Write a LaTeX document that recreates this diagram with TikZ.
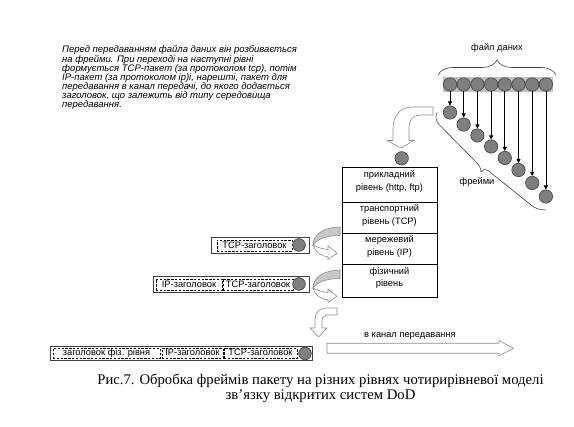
\documentclass[tikz,border=0pt]{standalone}
\usepackage{fontspec}
\setmainfont{Liberation Serif}
\newfontfamily\arial{Liberation Sans}
\usetikzlibrary{decorations.pathreplacing,arrows.meta}
\definecolor{cfill}{HTML}{7F7F7F}
\definecolor{cdraw}{HTML}{404040}
\definecolor{barfill}{HTML}{C0C0C0}
\definecolor{outl}{HTML}{8C8C8C}
\definecolor{ribfill}{HTML}{C8C8C8}
\begin{document}
\begin{tikzpicture}[x=1pt,y=-1pt,
  lbl/.style={font=\arial\fontsize{9.3}{12.4}\selectfont, inner sep=0, align=center},
  desc/.style={font=\arial\itshape\fontsize{9.5}{8.9}\selectfont, inner sep=0, align=left},
  ball/.style={circle, fill=cfill, draw=cdraw, line width=0.6pt, minimum size=13.4pt, inner sep=0},
  arr/.style={-{Triangle[length=4pt,width=4pt]}, line width=0.8pt},
  layer/.style={draw, line width=0.7pt, minimum width=95pt, inner sep=0},
  pbox/.style={draw=cdraw, line width=0.6pt, inner sep=0},
  dbox/.style={lbl, draw, dash pattern=on 2.4pt off 1.4pt, line width=0.9pt},
  hollow/.style={draw=outl, line width=0.6pt, fill=white, line join=miter},
  ribbon/.style={draw=outl, line width=0.6pt}]
\useasboundingbox (0,0) rectangle (574,427);

% description
\node[desc, anchor=north west] (desc) at (62,45.5) {Перед передаванням файла даних він розбивається\\
на фрейми. При переході на наступні рівні\\
формується TCP-пакет (за протоколом tcp), потім\\
IP-пакет (за протоколом ip)і, нарешті, пакет для\\
передавання в канал передачі, до якого додається\\
заголовок, що залежить від типу середовища\\
передавання.};

% data file
\node[lbl] (fl) at (497,48) {файл даних};
\draw[decorate, decoration={brace, amplitude=15pt, aspect=0.5}, line width=0.6pt, draw=cdraw] (438,75) -- (556,75);
\node[fill=barfill, minimum width=110pt, minimum height=15pt, inner sep=0] (bar) at (498,84.5) {};
\foreach \i/\x/\y in {1/450/112.5, 2/463.7/124.5, 3/477.4/135.5, 4/491.1/146.5, 5/504.8/158, 6/518.5/170, 7/532.2/183, 8/545.9/196.5}{
  \node[ball] (t\i) at (\x,84.5) {};
  \node[ball] (f\i) at (\x,\y) {};
  \draw[arr] (t\i) -- (f\i);
}
% frames brace
\draw[line width=0.6pt, draw=cdraw] (437,112.5) .. controls (435,117) and (436,121) .. (439,124.5)
  -- (476,162) .. controls (479,165) and (481,168) .. (481,172)
  .. controls (482,169.5) and (485,169) .. (488,170.5)
  -- (531,205) .. controls (535,208.5) and (540,210) .. (546,210);
\node[lbl] (fr) at (477,182) {фрейми};

% big bent arrow
\draw[hollow] (433,107) -- (412,107) .. controls (400,107) and (393,116) .. (393,128)
  -- (393,140.5) -- (387,140.5) -- (401,148) -- (414,140.5) -- (409,140.5) -- (409,128)
  .. controls (409,120) and (413,115) .. (420,115) -- (433,115) -- cycle;
\node[ball] (top) at (401.7,158.3) {};

% stack
\node[layer, minimum height=35pt] (app) at (389.5,184.5) {};
\node[layer, minimum height=31pt] (tra) at (389.5,217.5) {};
\node[layer, minimum height=31pt] (net) at (389.5,248.5) {};
\node[layer, minimum height=33pt] (phy) at (389.5,280.5) {};
\node[lbl] (appt) at ([yshift=3pt]app.center) {прикладний\\рівень (http, ftp)};
\node[lbl] (trat) at ([yshift=2pt]tra.center) {транспортний\\рівень (TCP)};
\node[lbl] (nett) at ([yshift=2pt]net.center) {мережевий\\рівень (IP)};
\node[lbl] (phyt) at ([yshift=2.5pt]phy.center) {фізичний\\рівень};

% packet 1
\node[pbox, minimum width=98pt, minimum height=16pt] (p1) at (260,245) {};
\node[dbox, minimum width=75pt, minimum height=11pt] (p1tcp) at (254.5,245.5) {TCP-заголовок};
\node[ball, minimum size=12.7pt] (p1c) at (299,245) {};

% packet 2
\node[pbox, minimum width=156pt, minimum height=16pt] (p2) at (231,284) {};
\node[dbox, minimum width=66pt, minimum height=11pt] (p2ip) at (189,284.5) {IP-заголовок};
\node[dbox, minimum width=70pt, minimum height=11pt] (p2tcp) at (258,284.5) {TCP-заголовок};
\node[ball, minimum size=12.7pt] (p2c) at (299,284) {};

% packet 3
\node[pbox, minimum width=262pt, minimum height=13.5pt] (p3) at (181,353.5) {};
\begin{scope}[every node/.append style={font=\arial\fontsize{8.8}{10}\selectfont, text height=6pt, text depth=1.5pt}]
\node[dbox, minimum width=107pt, minimum height=9.8pt] (p3ph) at (106.5,353.5) {заголовок фіз. рівня};
\node[dbox, minimum width=61pt, minimum height=9.8pt] (p3ip) at (192.5,353.5) {IP-заголовок};
\node[dbox, minimum width=73pt, minimum height=9.8pt] (p3tcp) at (260.5,353.5) {TCP-заголовок};
\end{scope}
\node[ball, minimum size=12.7pt] (p3c) at (305,353.5) {};

% ribbon arrows
\foreach \dy in {0,43}{
  \begin{scope}[shift={(0,\dy)}]
    \draw[ribbon, fill=ribfill] (340,227) .. controls (325,227) and (313,234) .. (313,245)
      .. controls (317,239) and (327,235.5) .. (340,235.5) -- cycle;
    \draw[hollow] (313,245) .. controls (315,252) and (321,256.5) .. (328,256.8)
      -- (328,259.5) -- (337,253.3) -- (328,246) -- (328,249.5)
      .. controls (322,249) and (317,247) .. (313,245) -- cycle;
  \end{scope}
}
% down arrow to physical packet
\draw[hollow] (337,308) -- (327,308) .. controls (319,308) and (315,313) .. (315,320) -- (315,328)
  -- (310,328) -- (318.5,337) -- (327,328) -- (322,328) -- (322,321)
  .. controls (322,317) and (324,315) .. (327,315) -- (337,315) -- cycle;

% channel arrow
\draw[hollow] (327,343.3) -- (499,343.3) -- (499,340.5) -- (513.3,348.3) -- (499,356) -- (499,353.3) -- (327,353.3) -- cycle;
\node[lbl] (ch) at (410,336) {в канал передавання};

% caption
\node[font=\fontsize{14.7}{16}\selectfont, inner sep=0] (cap1) at (320.5,380.5) {Рис.7. Обробка фреймів пакету на різних рівнях чотирирівневої моделі};
\node[font=\fontsize{14.7}{16}\selectfont, inner sep=0] (cap2) at (320.5,396.5) {зв’язку відкритих систем DoD};
\end{tikzpicture}
\end{document}
